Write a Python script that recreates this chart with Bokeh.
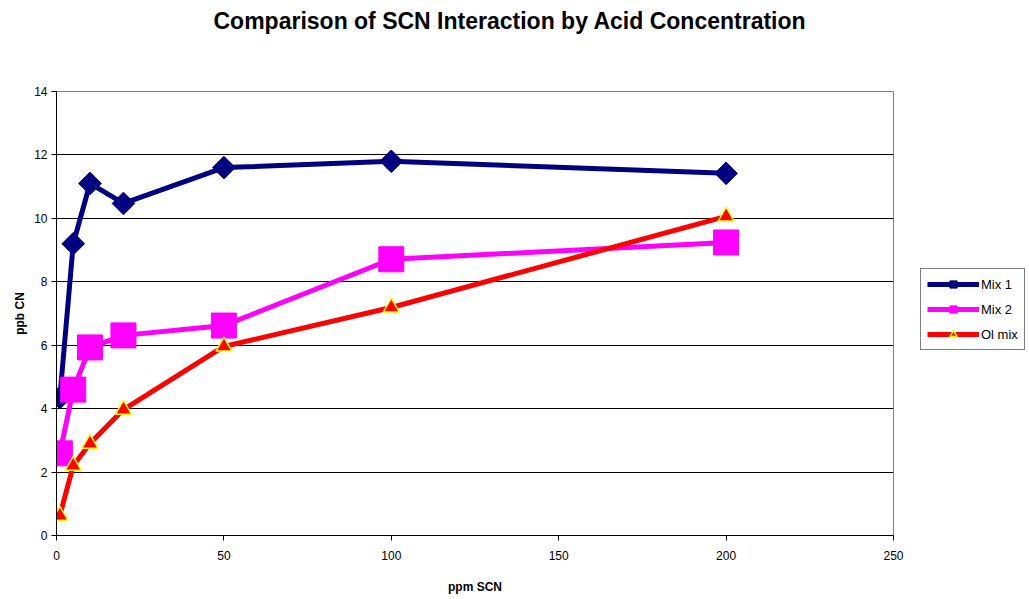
from bokeh.plotting import figure
from bokeh.models import ColumnDataSource, Range1d, Legend, LegendItem, Title, FixedTicker
from bokeh.embed import file_html
from bokeh.resources import INLINE
import math

x_vals = [1, 5, 10, 20, 50, 100, 200]
mix1 = [4.35, 9.2, 11.1, 10.47, 11.6, 11.8, 11.42]
mix2 = [2.59, 4.6, 5.93, 6.31, 6.62, 8.71, 9.24]
olmix = [0.63, 2.2, 2.9, 3.97, 5.96, 7.19, 10.06]
x_ticks = [0, 50, 100, 150, 200, 250]
y_ticks = [0, 2, 4, 6, 8, 10, 12, 14]

FONT = "Liberation Sans"

p = figure(width=1029, height=599, frame_width=837, frame_height=444,
           min_border_left=56, min_border_right=136, min_border_top=91, min_border_bottom=64,
           x_range=Range1d(0, 250), y_range=Range1d(0, 14),
           output_backend="svg", toolbar_location=None, title=None)
p.background_fill_color = "white"
p.border_fill_color = "white"
p.outline_line_color = "#808080"
p.outline_line_width = 1

p.xaxis.ticker = FixedTicker(ticks=x_ticks)
p.yaxis.ticker = FixedTicker(ticks=y_ticks)
for ax in (p.xaxis[0], p.yaxis[0]):
    ax.axis_line_color = "black"
    ax.axis_line_width = 1
    ax.major_tick_line_color = "black"
    ax.major_tick_out = 5
    ax.major_tick_in = 0
    ax.minor_tick_line_color = None
    ax.major_label_text_font = FONT
    ax.major_label_text_font_size = "12px"
    ax.major_label_text_color = "black"
    ax.axis_label_text_font = FONT
    ax.axis_label_text_font_style = "bold"
    ax.axis_label_text_font_size = "12px"
    ax.axis_label_text_color = "black"
p.xaxis.axis_label = "ppm SCN"
p.yaxis.axis_label = "ppb CN"
p.xaxis.major_label_standoff = 10
p.xaxis.axis_label_standoff = 17
p.yaxis.major_label_standoff = 4
p.yaxis.axis_label_standoff = 4

p.xgrid.grid_line_color = None
p.ygrid.grid_line_color = "black"
p.ygrid.grid_line_width = 1

spacer = Title(text=" ", text_font=FONT, text_font_size="12px", standoff=38)
p.add_layout(spacer, "above")
t = Title(text="Comparison of SCN Interaction by  Acid Concentration", align="left",
          offset=157, text_font=FONT, text_font_size="23px", text_font_style="bold",
          text_color="black", standoff=8)
p.add_layout(t, "above")

src = ColumnDataSource(dict(x=x_vals, m1=mix1, m2=mix2, ol=olmix))

p.line("x", "m1", source=src, line_color="#000080", line_width=5)
p.scatter("x", "m1", source=src, marker="square", angle=math.pi / 4, size=16,
          fill_color="#000080", line_color="#000080")
p.line("x", "m2", source=src, line_color="#FF00FF", line_width=5)
p.scatter("x", "m2", source=src, marker="square", size=25,
          fill_color="#FF00FF", line_color="#FF00FF")
p.line("x", "ol", source=src, line_color="#FF0000", line_width=5)
p.scatter("x", "ol", source=src, marker="triangle", size=16,
          fill_color="#FF0000", line_color="#FFFF00", line_width=1.5)

# legend proxies (outside visible range)
dsrc = ColumnDataSource(dict(x=[-1000], y=[-1000]))
l1 = p.line("x", "y", source=dsrc, line_color="#000080", line_width=5)
s1 = p.scatter("x", "y", source=dsrc, marker="square", angle=math.pi / 4, size=6,
               fill_color="#000080", line_color="#000080")
l2 = p.line("x", "y", source=dsrc, line_color="#FF00FF", line_width=5)
s2 = p.scatter("x", "y", source=dsrc, marker="square", size=7,
               fill_color="#FF00FF", line_color="#FF00FF")
l3 = p.line("x", "y", source=dsrc, line_color="#FF0000", line_width=5)
s3 = p.scatter("x", "y", source=dsrc, marker="triangle", size=8,
               fill_color="#FF0000", line_color="#FFFF00", line_width=1.5)

legend = Legend(items=[LegendItem(label="Mix 1", renderers=[l1, s1]),
                       LegendItem(label="Mix 2", renderers=[l2, s2]),
                       LegendItem(label="Ol mix", renderers=[l3, s3])],
                location=(27, 185), orientation="vertical",
                label_text_font=FONT, label_text_font_size="13px",
                label_text_color="black", glyph_width=52, glyph_height=18,
                label_standoff=2, spacing=7, padding=6, margin=0,
                border_line_color="black", border_line_width=1,
                background_fill_color="white", background_fill_alpha=1)
p.add_layout(legend, "right")

open("out.html", "w").write(file_html(p, INLINE))
